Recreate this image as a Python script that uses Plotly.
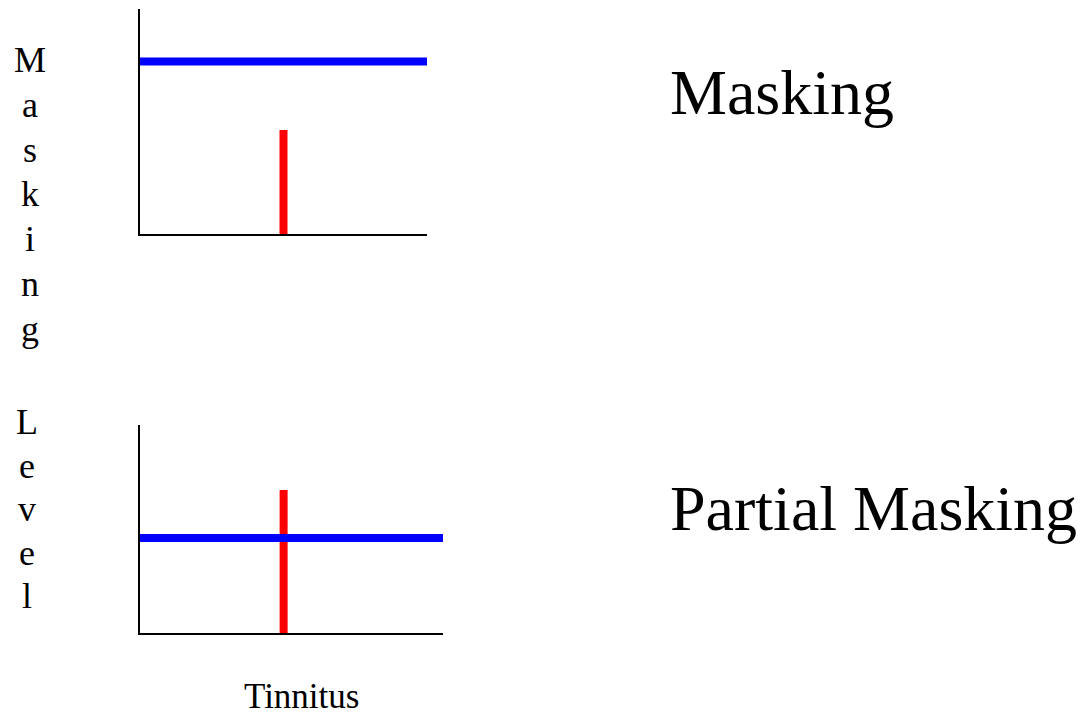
import plotly.graph_objects as go

# ---- data (arbitrary units: frequency 0-10, level 0-10) ----
freq_range = [0, 10]
level_range = [0, 10]

# top panel: "Masking"
top_masker_x = [0, 10]
top_masker_level = [7.67, 7.67]
top_tinnitus_x = [5.0, 5.0]
top_tinnitus_level = [0, 4.62]

# bottom panel: "Partial Masking"
bot_masker_x = [0, 10]
bot_masker_level = [4.57, 4.57]
bot_tinnitus_x = [4.74, 4.74]
bot_tinnitus_level = [0, 6.88]

panel_titles = ["Masking", "Partial Masking"]
y_label_words = ["Masking", "Level"]
x_label = "Tinnitus"

W, H = 1082, 717
RED = "#ff0000"
BLUE = "#0000ff"
FONT = "Liberation Serif, Times New Roman, serif"

fig = go.Figure()

# top panel traces
fig.add_trace(go.Scatter(x=top_tinnitus_x, y=top_tinnitus_level, mode="lines",
                         line=dict(color=RED, width=8), xaxis="x", yaxis="y",
                         showlegend=False, hoverinfo="skip"))
fig.add_trace(go.Scatter(x=top_masker_x, y=top_masker_level, mode="lines",
                         line=dict(color=BLUE, width=8), xaxis="x", yaxis="y",
                         showlegend=False, hoverinfo="skip"))
# bottom panel traces
fig.add_trace(go.Scatter(x=bot_tinnitus_x, y=bot_tinnitus_level, mode="lines",
                         line=dict(color=RED, width=8), xaxis="x2", yaxis="y2",
                         showlegend=False, hoverinfo="skip"))
fig.add_trace(go.Scatter(x=bot_masker_x, y=bot_masker_level, mode="lines",
                         line=dict(color=BLUE, width=8), xaxis="x2", yaxis="y2",
                         showlegend=False, hoverinfo="skip"))

def px_x(p):
    return p / W

def px_y(p):
    return 1 - p / H

axis_common = dict(showline=True, linecolor="black", linewidth=2, showgrid=False,
                   zeroline=False, showticklabels=False, ticks="", fixedrange=True)

fig.update_layout(
    width=W, height=H,
    margin=dict(l=0, r=0, t=0, b=0),
    paper_bgcolor="white", plot_bgcolor="white",
    xaxis=dict(domain=[px_x(140), px_x(427)], range=freq_range, anchor="y", **axis_common),
    yaxis=dict(domain=[px_y(234), px_y(9)], range=level_range, anchor="x", **axis_common),
    xaxis2=dict(domain=[px_x(140), px_x(443)], range=freq_range, anchor="y2", **axis_common),
    yaxis2=dict(domain=[px_y(633), px_y(425)], range=level_range, anchor="x2", **axis_common),
)

annotations = []
# big panel titles
for title, yc in zip(panel_titles, [93, 508]):
    annotations.append(dict(text=title, xref="paper", yref="paper", x=px_x(668), y=px_y(yc),
                            xanchor="left", yanchor="middle", showarrow=False,
                            font=dict(family=FONT, size=64, color="black")))

# vertical y label, one letter per line
letters_top = list(y_label_words[0])
letters_bot = list(y_label_words[1])
for i, ch in enumerate(letters_top):
    annotations.append(dict(text=ch, xref="paper", yref="paper", x=px_x(30), y=px_y(60 + i * 44.8),
                            xanchor="center", yanchor="middle", showarrow=False,
                            font=dict(family=FONT, size=36, color="black")))
for i, ch in enumerate(letters_bot):
    annotations.append(dict(text=ch, xref="paper", yref="paper", x=px_x(27), y=px_y(422 + i * 43.5),
                            xanchor="center", yanchor="middle", showarrow=False,
                            font=dict(family=FONT, size=36, color="black")))

annotations.append(dict(text=x_label, xref="paper", yref="paper", x=px_x(301), y=px_y(696),
                        xanchor="center", yanchor="middle", showarrow=False,
                        font=dict(family=FONT, size=35, color="black")))

fig.update_layout(annotations=annotations)

fig.write_html("out.html", config={"displayModeBar": False},
               post_script="document.body.style.margin='0';document.body.style.overflow='hidden';")
